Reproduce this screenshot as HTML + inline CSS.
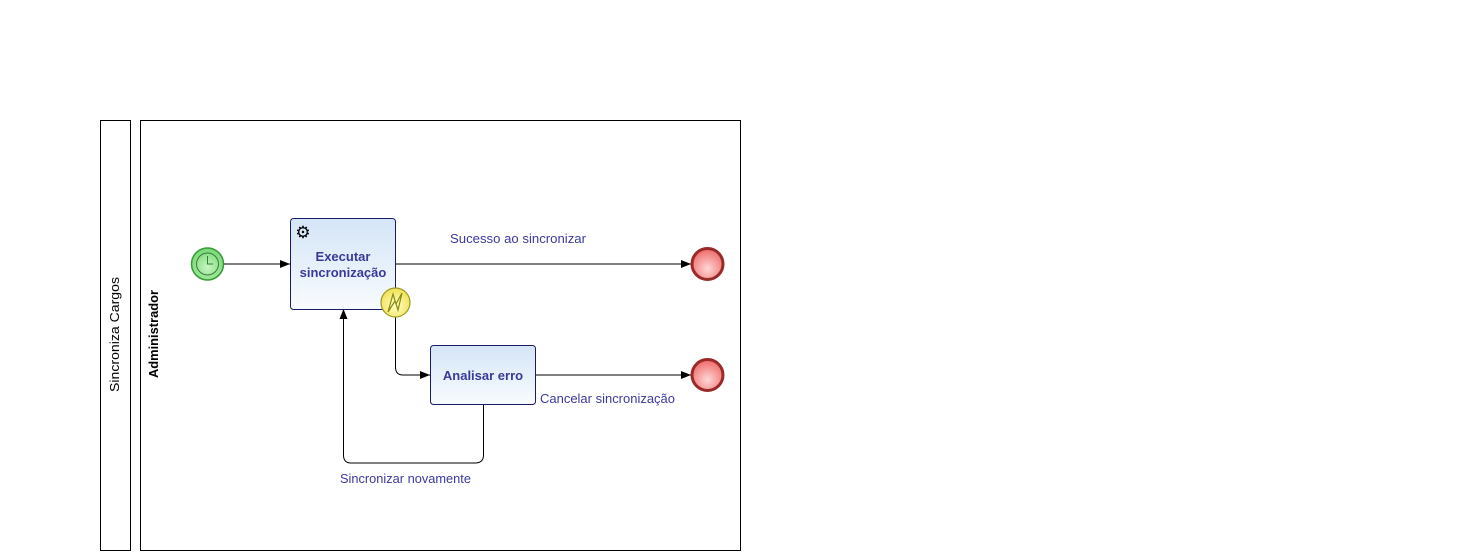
<!DOCTYPE html>
<html><head><meta charset="utf-8"><style>
html,body{margin:0;padding:0;background:#fff;}
svg{display:block;font-family:"Liberation Sans",sans-serif;}
</style></head><body>
<svg width="1476" height="556" viewBox="0 0 1476 556" xmlns="http://www.w3.org/2000/svg">
<defs>
<linearGradient id="tg" x1="0" y1="0" x2="0" y2="1"><stop offset="0" stop-color="#d4e5f7"/><stop offset="1" stop-color="#f8fbfe"/></linearGradient>
<radialGradient id="sg" cx="0.5" cy="0.6" r="0.6"><stop offset="0" stop-color="#c8f5c0"/><stop offset="1" stop-color="#70d870"/></radialGradient>
<radialGradient id="eg" cx="0.5" cy="0.65" r="0.6"><stop offset="0" stop-color="#ffd6d6"/><stop offset="1" stop-color="#f07070"/></radialGradient>
<radialGradient id="bg" cx="0.5" cy="0.6" r="0.6"><stop offset="0" stop-color="#ffffc8"/><stop offset="1" stop-color="#f0e050"/></radialGradient>
<marker id="ar" markerWidth="10" markerHeight="8" refX="10" refY="4" orient="auto" markerUnits="userSpaceOnUse"><path d="M0,0 L10,4 L0,8 z" fill="#000"/></marker>
</defs>
<rect x="100.5" y="120.5" width="30" height="430" fill="#fff" stroke="#000"/>
<rect x="140.5" y="120.5" width="600" height="430" fill="#fff" stroke="#000"/>
<text transform="translate(119,392) rotate(-90)" font-size="13" fill="#000" textLength="115" lengthAdjust="spacingAndGlyphs">Sincroniza Cargos</text>
<text transform="translate(158,378) rotate(-90)" font-size="12.5" font-weight="bold" fill="#000" textLength="88" lengthAdjust="spacingAndGlyphs">Administrador</text>

<line x1="224" y1="264" x2="290" y2="264" stroke="#000" marker-end="url(#ar)"/>
<line x1="396" y1="264" x2="691" y2="264" stroke="#000" marker-end="url(#ar)"/>
<path d="M395.5 317 V367 Q395.5 375 403 375 H430" fill="none" stroke="#000" marker-end="url(#ar)"/>
<path d="M483.5 404 V455 Q483.5 463 475 463 H351 Q343.5 463 343.5 455 V309" fill="none" stroke="#000" marker-end="url(#ar)"/>
<line x1="536" y1="375" x2="691" y2="375" stroke="#000" marker-end="url(#ar)"/>

<circle cx="207.5" cy="264" r="16" fill="url(#sg)" stroke="#3a9a3a" stroke-width="1.5"/>
<circle cx="207.5" cy="264" r="11" fill="none" stroke="#3a7a3a"/>
<path d="M207.5 256 V264 L213 264" fill="none" stroke="#3a7a3a"/>

<rect x="290.5" y="218.5" width="105" height="91" rx="3" fill="url(#tg)" stroke="#1a1a6a"/>
<text x="303" y="238" text-anchor="middle" font-size="17">⚙</text>
<text x="343" y="261" text-anchor="middle" font-size="13" font-weight="bold" fill="#3a3a9a">Executar</text>
<text x="343" y="277" text-anchor="middle" font-size="13" font-weight="bold" fill="#3a3a9a">sincronização</text>

<circle cx="395.5" cy="302.5" r="14.5" fill="url(#bg)" stroke="#9a9a20" stroke-width="1.2"/>
<path d="M388 312 L393 294 L396 304 L402 293 L398 310 L395 301 Z" fill="none" stroke="#8a8a10" stroke-width="1.2"/>

<rect x="430.5" y="345.5" width="105" height="59" rx="3" fill="url(#tg)" stroke="#1a1a6a"/>
<text x="483" y="380" text-anchor="middle" font-size="13" font-weight="bold" fill="#3a3a9a">Analisar erro</text>

<circle cx="707.5" cy="264" r="15.5" fill="url(#eg)" stroke="#9a2a2a" stroke-width="3"/>
<circle cx="707.5" cy="375" r="15.5" fill="url(#eg)" stroke="#9a2a2a" stroke-width="3"/>

<text x="450" y="243" font-size="13" fill="#3a3aa0" textLength="136" lengthAdjust="spacingAndGlyphs">Sucesso ao sincronizar</text>
<text x="540" y="403" font-size="13" fill="#3a3aa0" textLength="135" lengthAdjust="spacingAndGlyphs">Cancelar sincronização</text>
<text x="340" y="483" font-size="13" fill="#3a3aa0" textLength="131" lengthAdjust="spacingAndGlyphs">Sincronizar novamente</text>
</svg>
</body></html>
